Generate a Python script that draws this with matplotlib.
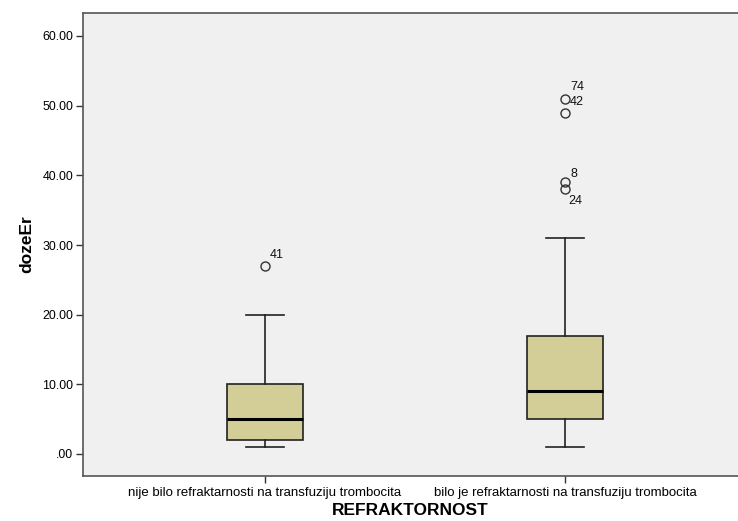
import numpy as np
import matplotlib.pyplot as plt

# Box summary values for dozeEr per REFRAKTORNOST group
groups = ["nije bilo refraktarnosti na transfuziju trombocita",
          "bilo je refraktarnosti na transfuziju trombocita"]
q1 = [2.0, 5.0]
median = [5.0, 9.0]
q3 = [10.0, 17.0]
whisker_lo = [1.0, 1.0]
whisker_hi = [20.0, 31.0]

# Outliers with case numbers
outlier_vals = [[27.0], [51.0, 49.0, 39.0, 38.0]]
outlier_ids = [["41"], ["74", "42", "8", "24"]]
# label offsets in pixels (dx, dy)
outlier_offsets = [[(12, 11)], [(12, 12), (12, 11), (9, 8), (10, -12)]]

yticks = [0, 10, 20, 30, 40, 50, 60]
ytick_labels = [".00", "10.00", "20.00", "30.00", "40.00", "50.00", "60.00"]

plt.rcParams['font.family'] = ['Liberation Sans', 'DejaVu Sans']

W, H = 738, 521
fig = plt.figure(figsize=(W / 100, H / 100), dpi=100)
ax = fig.add_axes([83 / W, 1 - 476 / H, 1 - 83 / W, (476 - 13) / H])
ax.set_facecolor("#f0f0f0")

stats = []
for i in range(len(groups)):
    stats.append(dict(med=median[i], q1=q1[i], q3=q3[i],
                      whislo=whisker_lo[i], whishi=whisker_hi[i],
                      fliers=outlier_vals[i]))

positions = [1, 2]
ax.bxp(stats, positions=positions, widths=0.253, patch_artist=True,
       boxprops=dict(facecolor="#d3ce97", edgecolor="#222222", linewidth=1.2),
       medianprops=dict(color="black", linewidth=2.2),
       whiskerprops=dict(color="#222222", linewidth=1.2),
       capprops=dict(color="#222222", linewidth=1.2),
       capwidths=0.125,
       flierprops=dict(marker="o", markerfacecolor="none",
                       markeredgecolor="#333333", markersize=6.5,
                       markeredgewidth=1.0))

for i, pos in enumerate(positions):
    for val, lab, (dx, dy) in zip(outlier_vals[i], outlier_ids[i], outlier_offsets[i]):
        ax.annotate(lab, (pos, val), xytext=(dx * 0.72, dy * 0.72),
                    textcoords="offset points", fontsize=9,
                    ha="center", va="center", color="#111111")

px_per_unit = (454 - 36) / 60
ax.set_xlim(1 - 182 / 300, 2 + 173 / 300)
ax.set_ylim(-(476 - 454) / px_per_unit, 60 + (36 - 13) / px_per_unit)
ax.set_yticks(yticks)
ax.set_yticklabels(ytick_labels, fontsize=8.9)
ax.set_xticks(positions)
ax.set_xticklabels(groups, fontsize=9.5)
ax.tick_params(axis="both", direction="out", length=5, color="#333333", width=1)
ax.tick_params(axis="x", pad=3)
ax.tick_params(axis="y", pad=2)

for side in ["left", "top", "bottom"]:
    ax.spines[side].set_color("#555555")
    ax.spines[side].set_linewidth(1.2)
ax.spines["right"].set_visible(False)

ax.set_ylabel("dozeEr", fontsize=12.5, fontweight="bold", labelpad=6)
ax.set_xlabel("REFRAKTORNOST", fontsize=12.5, fontweight="bold", labelpad=3)

fig.savefig("out.png", dpi=100, facecolor="white")
